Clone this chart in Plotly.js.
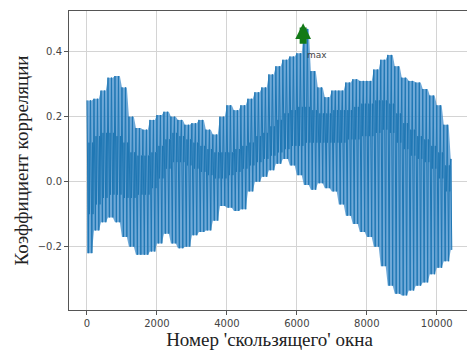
<!DOCTYPE html>
<html>
<head>
<meta charset="utf-8">
<script src="https://cdn.plot.ly/plotly-3.0.1.min.js"></script>
<style>
html,body{margin:0;padding:0;overflow:hidden;background:#fff;}
#chart{width:471px;height:351px;}
</style>
</head>
<body>
<div id="chart"></div>
<script>
// Window index samples (every 200 windows)
const windowIndex = [0,200,400,600,800,1000,1200,1400,1600,1800,2000,2200,2400,2600,2800,3000,3200,3400,3600,3800,4000,4200,4400,4600,4800,5000,5200,5400,5600,5800,6000,6200,6400,6600,6800,7000,7200,7400,7600,7800,8000,8200,8400,8600,8800,9000,9200,9400,9600,9800,10000,10200,10400];
// Peak correlation values of the oscillation (upper envelope)
const peakCorr = [0.25,0.255,0.28,0.32,0.325,0.29,0.2,0.165,0.16,0.19,0.205,0.215,0.2,0.19,0.175,0.18,0.19,0.16,0.145,0.2,0.235,0.22,0.235,0.255,0.275,0.29,0.33,0.355,0.375,0.385,0.395,0.47,0.34,0.29,0.26,0.28,0.28,0.305,0.315,0.31,0.31,0.345,0.375,0.39,0.355,0.32,0.31,0.305,0.285,0.265,0.235,0.175,0.07];
// Trough correlation values (lower envelope)
const troughCorr = [-0.22,-0.15,-0.125,-0.11,-0.125,-0.17,-0.2,-0.225,-0.225,-0.215,-0.19,-0.16,-0.19,-0.205,-0.2,-0.165,-0.155,-0.15,-0.12,-0.075,-0.08,-0.09,-0.085,-0.03,0.0,0.015,0.035,0.055,0.07,0.05,0.02,-0.01,-0.025,-0.005,-0.02,-0.03,-0.07,-0.105,-0.13,-0.155,-0.17,-0.2,-0.26,-0.32,-0.345,-0.35,-0.335,-0.32,-0.31,-0.285,-0.265,-0.245,-0.21];
// Dense central band: upper and lower values of the small oscillations
const bandHigh = [0.12,0.14,0.15,0.15,0.14,0.12,0.09,0.08,0.08,0.09,0.11,0.13,0.15,0.14,0.13,0.12,0.11,0.10,0.09,0.09,0.09,0.10,0.11,0.12,0.14,0.15,0.17,0.19,0.21,0.22,0.23,0.23,0.22,0.21,0.21,0.22,0.22,0.22,0.23,0.24,0.24,0.25,0.25,0.24,0.21,0.18,0.16,0.14,0.13,0.11,0.09,0.05,0.02];
const bandLow = [-0.10,-0.07,-0.05,-0.04,-0.04,-0.05,-0.05,-0.04,-0.04,-0.02,0.01,0.04,0.06,0.06,0.05,0.04,0.03,0.02,0.01,0.01,0.02,0.03,0.04,0.05,0.06,0.07,0.08,0.09,0.10,0.11,0.11,0.12,0.12,0.12,0.12,0.12,0.12,0.13,0.13,0.14,0.14,0.15,0.16,0.15,0.12,0.10,0.08,0.07,0.06,0.04,0.01,-0.03,-0.06];
// Axis ticks
const xTicks = [0,2000,4000,6000,8000,10000];
const yTicks = [-0.2,0.0,0.2,0.4];
const yTickText = ['\u22120.2','0.0','0.2','0.4'];
const maxWindow = 6180;

// Build the oscillating line: two full swings and band wiggles per sample
const xs = [], ys = [];
const last = windowIndex.length - 1;
for (let i = 0; i <= last; i++) {
  const x0 = windowIndex[i];
  if (i === last) {
    xs.push(x0, x0 + 30); ys.push(peakCorr[i], troughCorr[i]);
    break;
  }
  for (const off of [0, 100]) {
    xs.push(x0 + off, x0 + off + 40, x0 + off + 58, x0 + off + 72, x0 + off + 86);
    ys.push(peakCorr[i], troughCorr[i], bandHigh[i], bandLow[i], bandHigh[i]);
  }
}

// Blurred swing area between the envelopes (the dense strokes merge visually)
const areaX = [], areaY = [];
for (let i = 0; i <= last; i++) {
  areaX.push(windowIndex[i], windowIndex[i] + (i === last ? 30 : 140));
  areaY.push(peakCorr[i], peakCorr[i]);
}
for (let i = last; i >= 0; i--) {
  areaX.push(windowIndex[i] + (i === last ? 30 : 140), windowIndex[i]);
  areaY.push(troughCorr[i], troughCorr[i]);
}

const area = {
  x: areaX, y: areaY, type: 'scatter', mode: 'lines', fill: 'toself',
  fillcolor: 'rgba(70,145,205,0.78)', line: {width: 0}, hoverinfo: 'skip'
};
const trace = {
  x: xs, y: ys, type: 'scatter', mode: 'lines',
  line: {color: '#1f77b4', width: 1}, hoverinfo: 'skip'
};

const layout = {
  width: 471, height: 351,
  margin: {l: 69, r: 1, t: 11, b: 41},
  paper_bgcolor: '#fff', plot_bgcolor: '#fff',
  showlegend: false,
  font: {family: 'DejaVu Sans, sans-serif', size: 10, color: '#444'},
  xaxis: {
    range: [-514, 10950], tickvals: xTicks, ticktext: xTicks.map(String),
    showgrid: true, gridcolor: '#d4d4d4', gridwidth: 1, zeroline: false,
    showline: true, mirror: true, linecolor: '#555', linewidth: 1,
    ticks: 'outside', ticklen: 4, tickcolor: '#555',
    title: {text: "Номер 'скользящего' окна", font: {family: 'Liberation Serif, serif', size: 19, color: '#222'}, standoff: 4}
  },
  yaxis: {
    range: [-0.395, 0.525], tickvals: yTicks, ticktext: yTickText,
    showgrid: true, gridcolor: '#d4d4d4', gridwidth: 1, zeroline: false,
    showline: true, mirror: true, linecolor: '#555', linewidth: 1,
    ticks: 'outside', ticklen: 4, tickcolor: '#555',
    title: {text: 'Коэффициент корреляции', font: {family: 'Liberation Serif, serif', size: 19, color: '#222'}, standoff: 4}
  },
  annotations: [
    {x: maxWindow, y: 0.487, xref: 'x', yref: 'y', ax: maxWindow, ay: 0.42, axref: 'x', ayref: 'y',
     showarrow: true, text: '', arrowhead: 2, arrowsize: 0.45, arrowwidth: 7, arrowcolor: '#137a17'},
    {x: maxWindow + 40, y: 0.39, xref: 'x', yref: 'y', text: 'max', showarrow: false,
     xanchor: 'left', yanchor: 'middle', font: {family: 'DejaVu Sans, sans-serif', size: 9, color: '#444'}}
  ]
};

Plotly.newPlot('chart', [area, trace], layout, {displayModeBar: false, staticPlot: true});
</script>
</body>
</html>
